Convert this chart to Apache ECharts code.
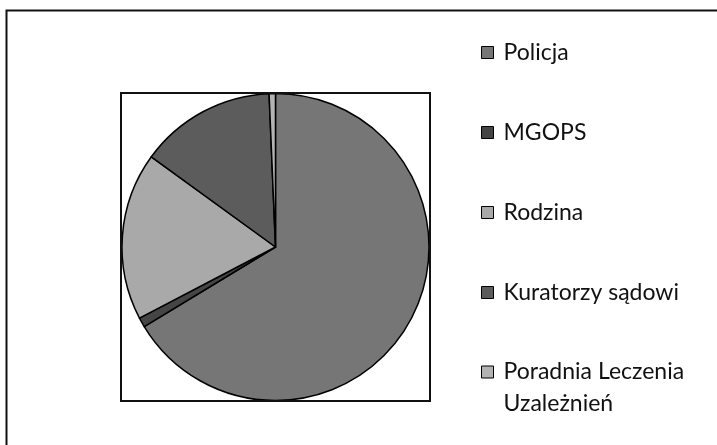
<!DOCTYPE html>
<html>
<head>
<meta charset="utf-8">
<script src="https://cdn.jsdelivr.net/npm/echarts@6/dist/echarts.min.js"></script>
<style>
  html, body { margin: 0; padding: 0; background: #fff; }
  #chart { width: 717px; height: 445px; }
</style>
</head>
<body>
<div id="chart"></div>
<script>
var categories = ["Policja", "MGOPS", "Rodzina", "Kuratorzy sądowi", "Poradnia Leczenia Uzależnień"];
var values = [199, 3, 53, 43, 2];
var colors = ["#767676", "#454545", "#a9a9a9", "#5c5c5c", "#b3b3b3"];

var myChart = echarts.init(document.getElementById("chart"));

var pieData = categories.map(function (name, i) {
  return { name: name, value: values[i], itemStyle: { color: colors[i] } };
});

var legendBase = {
  orient: "vertical",
  left: 481,
  padding: 0,
  itemWidth: 12,
  itemHeight: 12,
  icon: "rect",
  selectedMode: false,
  itemStyle: { borderColor: "#000", borderWidth: 1 }
};

var textBase = {
  fontFamily: "Lato",
  fontSize: 23,
  color: "#111"
};

var option = {
  backgroundColor: "#fff",
  animation: false,
  legend: [
    Object.assign({}, legendBase, {
      top: 39,
      itemGap: 53,
      data: categories.slice(0, 4),
      textStyle: Object.assign({}, textBase, { lineHeight: 27, padding: [0, 0, 0, 5] })
    }),
    // last entry wraps onto two lines; blank first line keeps the icon level with "Poradnia"
    Object.assign({}, legendBase, {
      top: 324,
      data: categories.slice(4),
      formatter: function (name) {
        return "\n" + name.replace("Leczenia ", "Leczenia\n");
      },
      textStyle: Object.assign({}, textBase, { lineHeight: 32, padding: [0, 0, 0, 5] })
    })
  ],
  graphic: [
    {
      type: "rect",
      shape: { x: 6.5, y: 10.5, width: 720, height: 450 },
      style: { fill: "none", stroke: "#111", lineWidth: 2 },
      silent: true
    },
    {
      type: "rect",
      shape: { x: 121, y: 93, width: 309, height: 308 },
      style: { fill: "none", stroke: "#111", lineWidth: 2 },
      silent: true,
      z: 10
    }
  ],
  series: [
    {
      type: "pie",
      center: [275.5, 247],
      radius: [0, 153.5],
      startAngle: 90,
      clockwise: true,
      label: { show: false },
      labelLine: { show: false },
      emphasis: { disabled: true },
      itemStyle: { borderColor: "#000", borderWidth: 1.5 },
      data: pieData
    }
  ]
};

myChart.setOption(option);
</script>
</body>
</html>
